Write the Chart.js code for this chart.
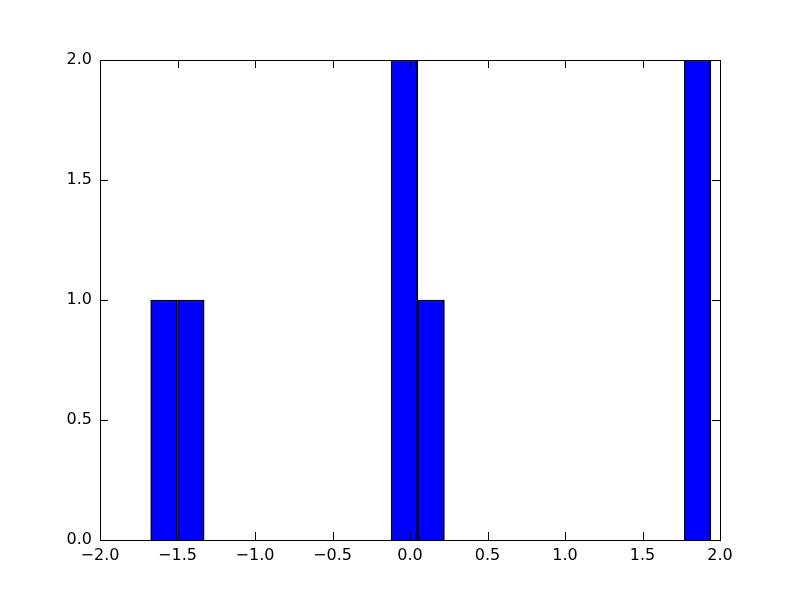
<!DOCTYPE html>
<html lang="en">
<head>
  <meta charset="UTF-8" />
  <title>Histogram</title>
  <script src="https://cdn.jsdelivr.net/npm/chart.js"></script>
  <style>
    body { margin: 0; background: #fff; }
    #wrap { width: 800px; height: 600px; }
  </style>
</head>
<body>
<div id="wrap"><canvas id="hist"></canvas></div>
<script>
  // bin centers and counts (only non-empty bins)
  const binCenters = [-1.587, -1.414, -0.036, 0.136, 1.855];
  const binCounts = [1, 1, 2, 1, 2];
  const xTicks = [-2.0, -1.5, -1.0, -0.5, 0.0, 0.5, 1.0, 1.5, 2.0];
  const yTicks = [0.0, 0.5, 1.0, 1.5, 2.0];

  const fmt = v => v.toFixed(1).replace('-', '\u2212');

  // matplotlib classic style frame with inward ticks on every side
  const framePlugin = {
    id: 'frame',
    afterDraw(chart) {
      const { ctx, chartArea: a, scales } = chart;
      ctx.save();
      ctx.strokeStyle = '#000';
      ctx.lineWidth = 1;
      ctx.strokeRect(a.left + 0.5, a.top + 0.5, a.right - a.left, a.bottom - a.top);
      ctx.beginPath();
      xTicks.forEach(t => {
        const px = Math.round(scales.x.getPixelForValue(t)) + 0.5;
        ctx.moveTo(px, a.bottom); ctx.lineTo(px, a.bottom - 8);
        ctx.moveTo(px, a.top); ctx.lineTo(px, a.top + 8);
      });
      yTicks.forEach(t => {
        const py = Math.round(scales.y.getPixelForValue(t)) + 0.5;
        ctx.moveTo(a.left, py); ctx.lineTo(a.left + 8, py);
        ctx.moveTo(a.right, py); ctx.lineTo(a.right - 8, py);
      });
      ctx.stroke();
      ctx.restore();
    }
  };

  new Chart(document.getElementById('hist'), {
    type: 'bar',
    data: {
      datasets: [{
        data: binCenters.map((x, i) => ({ x, y: binCounts[i] })),
        backgroundColor: '#0000ff',
        borderColor: '#000000',
        borderWidth: 1.5,
        barPercentage: 1.0,
        categoryPercentage: 1.0
      }]
    },
    options: {
      responsive: true,
      maintainAspectRatio: false,
      animation: false,
      layout: { padding: { top: 60, right: 80 } },
      plugins: { legend: { display: false }, tooltip: { enabled: false } },
      scales: {
        x: {
          type: 'linear',
          offset: false,
          min: -2, max: 2,
          grid: { display: false, drawTicks: false },
          border: { display: false },
          afterFit: s => { s.height = 60; },
          afterBuildTicks: s => { s.ticks = xTicks.map(v => ({ value: v })); },
          ticks: {
            padding: 6,
            color: '#000',
            font: { family: 'DejaVu Sans', size: 16 },
            callback: v => fmt(v),
            maxRotation: 0,
            autoSkip: false
          }
        },
        y: {
          min: 0, max: 2,
          grid: { display: false, drawTicks: false },
          border: { display: false },
          afterFit: s => { s.width = 100; },
          afterBuildTicks: s => { s.ticks = yTicks.map(v => ({ value: v })); },
          ticks: {
            padding: 8,
            color: '#000',
            font: { family: 'DejaVu Sans', size: 16 },
            callback: v => fmt(v)
          }
        }
      }
    },
    plugins: [framePlugin]
  });
</script>
</body>
</html>
